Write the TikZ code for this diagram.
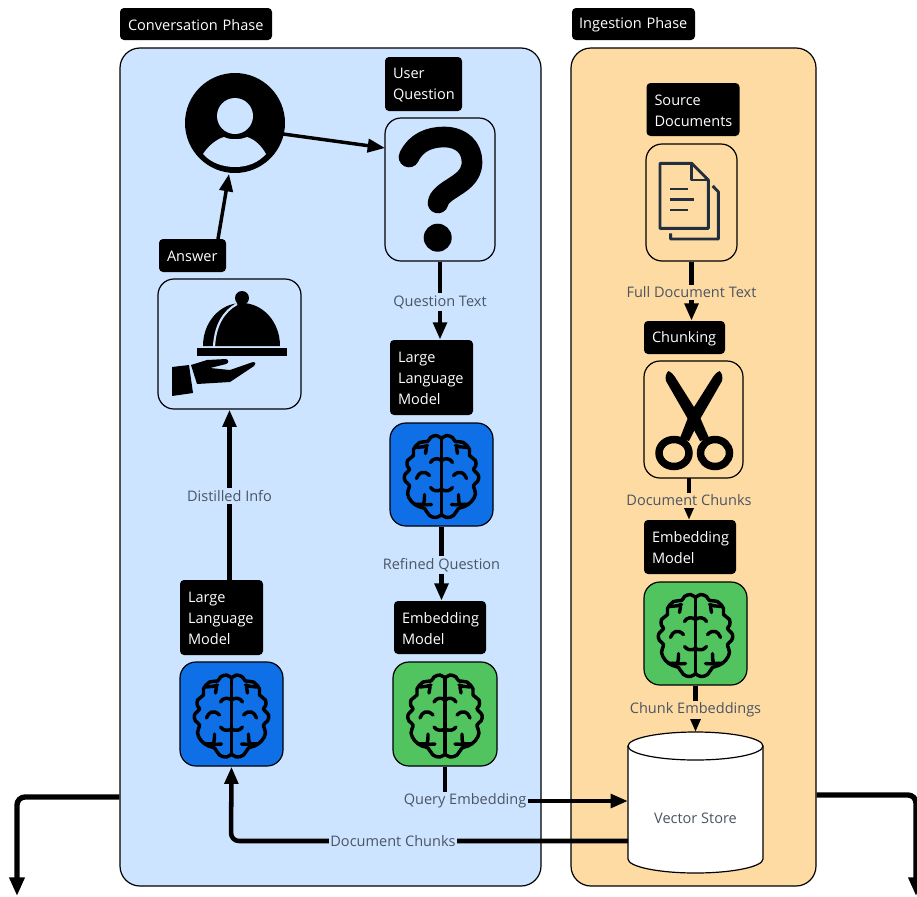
\documentclass[tikz,border=0pt]{standalone}
\usepackage{fontspec}
\setmainfont{Open Sans}
\usetikzlibrary{arrows.meta}
\definecolor{convbg}{HTML}{CCE4FF}
\definecolor{ingbg}{HTML}{FEDBA3}
\definecolor{brainblue}{HTML}{0F6FE6}
\definecolor{braingreen}{HTML}{52C45F}
\definecolor{edgegray}{HTML}{4B5563}
\definecolor{docink}{HTML}{232F3E}
\newcommand{\brainside}{%
  \draw[brainline] plot[smooth,tension=.65] coordinates {(0,-36)(-5,-39)(-11,-37)(-14,-33)(-22,-32)(-28,-25)(-28,-19)(-34,-14)(-34,-8)(-32,-5)(-37,1)(-36,7)(-32,11)(-34,19)(-30,27)(-23,32)(-17,34)(-12,41)(-5,43)(0,40)};
  \draw[brainline] (-25,-27) .. controls (-20,-28) and (-17,-27) .. (-14,-29);
  \draw[brainline] (-15,-27) -- (-16,-21);
  \draw[brainline] (-11,-12) .. controls (-9,-16) and (-4,-17) .. (0,-14);
  \draw[brainline] (-25,4) .. controls (-23,-2) and (-18,-5) .. (-12,1);
  \draw[brainline] (-11,13) .. controls (-8,17) and (-4,17) .. (0,15);
  \draw[brainline] (-27,30) .. controls (-22,29) and (-16,31) .. (-10,30);
  \draw[brainline] (-17,20) .. controls (-17,24) and (-17,27) .. (-18,30);
}
\tikzset{
  x=0.75pt,y=-0.75pt,
  panel/.style={draw=black,line width=0.9pt,rounded corners=15pt,inner sep=0pt},
  tagbox/.style={fill=black,text=white,rounded corners=3pt,inner sep=0pt,align=left,font=\fontsize{10.9}{15.75}\selectfont,execute at begin node={\rule{0pt}{9.8pt}}},
  iconbox/.style={draw=black,line width=0.9pt,rounded corners=12pt,inner sep=0pt},
  conn/.style={draw=black,line width=3.4pt,-{Triangle[length=13pt,width=10pt]}},
  thinconn/.style={conn,line width=2.6pt},
  flow/.style={fill=#1,text=edgegray,inner sep=1.5pt,yshift=-1pt,font=\fontsize{10.9}{13}\selectfont},
  brainline/.style={draw=black,line width=2.6pt,line cap=round,line join=round},
  docline/.style={draw=docink,line width=2.2pt,line join=round},
  brainpic/.pic={
    \brainside
    \begin{scope}[xscale=-1]\brainside\end{scope}
    \draw[brainline] (0,-36) -- (0,40);
  }
}
\begin{document}
\begin{tikzpicture}
\useasboundingbox (0,0) rectangle (917,896);
% panels
\node[panel,fill=convbg,minimum width=315.75pt,minimum height=628.5pt] (conv) at (330.5,467) {};
\node[panel,fill=ingbg,minimum width=183.75pt,minimum height=628.5pt] (ing) at (693.5,467) {};
% phase tags
\node[tagbox,minimum width=114pt,minimum height=24pt,text width=102pt] (convtag) at (196,24) {Conversation Phase};
\node[tagbox,minimum width=92.25pt,minimum height=24pt,text width=81.5pt] (ingtag) at (633.5,24) {Ingestion Phase};
% conversation: icons
\node[circle,fill=black,minimum size=75pt,inner sep=0pt] (user) at (235,123) {};
\fill[convbg] (235,116) circle (18);
\fill[convbg] (203,154) .. controls (209,145) and (217,139) .. (224,137) .. controls (230,140) and (240,140) .. (247,137) .. controls (254,139) and (261,145) .. (266,154) .. controls (258,163) and (247,167) .. (235,167) .. controls (223,167) and (211,163) .. (203,154) -- cycle;
\node[tagbox,minimum width=57.75pt,minimum height=40.5pt,text width=45.75pt] (uq) at (423.5,84) {User\\Question};
\node[iconbox,fill=convbg,minimum width=82.5pt,minimum height=107.25pt] (qbox) at (440,189.5) {};
\draw[black,line width=15.5pt,line cap=round,line join=round] (409,157) .. controls (416,142) and (430,137) .. (444,137) .. controls (462,137) and (472,148) .. (472,162) .. controls (472,177) and (460,183) .. (451,189) .. controls (443,194) and (438,199) .. (438,203);
\fill[black] (437.7,237.7) circle (14);
\node[tagbox,minimum width=50.25pt,minimum height=24.75pt,text width=38.25pt] (ans) at (192.5,255.5) {Answer};
\node[iconbox,fill=convbg,minimum width=107.25pt,minimum height=97.5pt] (abox) at (229.5,344) {};
% cloche
\fill[black] (242,298) circle (7);
\fill[black] (203,346) .. controls (203,322) and (220,303) .. (241.7,303) .. controls (263,303) and (280,322) .. (280,346) -- cycle;
\draw[convbg,line width=1.6pt] (214,347) .. controls (215,325) and (224,311) .. (237,304);
\fill[black] (197,348) rectangle (287,356);
\fill[black] (172,367) -- (189,365) -- (193,393) -- (172,396) -- cycle;
\fill[black] (191,365) -- (207,360) -- (226,359) .. controls (229,360) and (229,363) .. (226,364) -- (210,368) -- (230,370) -- (253,362) .. controls (256,362) and (256,365) .. (254,366) -- (230,382) -- (197,384) -- cycle;
% conversation: models
\node[tagbox,minimum width=62.25pt,minimum height=56.25pt,text width=50.25pt] (llma) at (431.5,377.5) {Large\\Language\\Model};
\node[iconbox,fill=brainblue,minimum width=77.25pt,minimum height=77.25pt] (braina) at (441.5,474.5) {};
\pic at (braina) {brainpic};
\node[tagbox,minimum width=69pt,minimum height=39.75pt,text width=57pt] (emba) at (440,627.5) {Embedding\\Model};
\node[iconbox,fill=braingreen,minimum width=78pt,minimum height=78pt] (braing) at (445,714) {};
\pic at (braing) {brainpic};
\node[tagbox,minimum width=62.25pt,minimum height=56.25pt,text width=50.25pt] (llmb) at (221.5,617.5) {Large\\Language\\Model};
\node[iconbox,fill=brainblue,minimum width=77.25pt,minimum height=78pt] (brainb) at (231.5,714) {};
\pic at (brainb) {brainpic};
% ingestion: icons
\node[tagbox,minimum width=69.75pt,minimum height=39.75pt,text width=57.75pt] (src) at (693,109.5) {Source\\Documents};
\node[iconbox,fill=ingbg,minimum width=68.25pt,minimum height=87.75pt] (dbox) at (691.5,202.5) {};
\draw[docline] (660,163.3) -- (691.7,163.3) -- (708.3,180) -- (708.3,228.3) -- (660,228.3) -- cycle;
\draw[docline] (691.7,163.3) -- (691.7,180) -- (708.3,180);
\draw[docline] (670,189) -- (688,189);
\draw[docline] (670,199.3) -- (694,199.3);
\draw[docline] (670,210) -- (688,210);
\draw[docline] (712.7,186) -- (718.3,191.7) -- (718.3,239) -- (670.7,239) -- (670.7,233.3);
\node[tagbox,minimum width=60.75pt,minimum height=24.75pt,text width=48.75pt] (chunk) at (684.5,337.5) {Chunking};
\node[iconbox,fill=ingbg,minimum width=74.25pt,minimum height=87.75pt] (sbox) at (693.5,419.5) {};
% scissors
\fill[black] (668.5,371) .. controls (671,372) and (673,374) .. (675,377) -- (699,415) -- (709,438) -- (700,441) -- (689,421) -- (666,381) .. controls (665,377) and (666,373) .. (668.5,371) -- cycle;
\fill[black] (719.5,371) .. controls (717,372) and (715,374) .. (713,377) -- (689,415) -- (680,438) -- (689,441) -- (699,421) -- (722,381) .. controls (723,377) and (722,373) .. (719.5,371) -- cycle;
\draw[black,line width=5.6pt] (674,453) ellipse (15 and 13.5);
\draw[black,line width=5.6pt] (715,453) ellipse (14.5 and 13.5);
\node[tagbox,minimum width=69pt,minimum height=40.5pt,text width=57pt] (embb) at (690,547) {Embedding\\Model};
\node[iconbox,fill=braingreen,minimum width=77.25pt,minimum height=77.25pt] (brainc) at (695.5,633.5) {};
\pic at (brainc) {brainpic};
% vector store
\fill[white] (628,746) -- (628,859) .. controls (628,866.7) and (658.4,873) .. (695.5,873) .. controls (732.6,873) and (763,866.7) .. (763,859) -- (763,746) -- cycle;
\draw[black,line width=0.9pt] (628,746) -- (628,859) .. controls (628,866.7) and (658.4,873) .. (695.5,873) .. controls (732.6,873) and (763,866.7) .. (763,859) -- (763,746);
\draw[black,line width=0.9pt,fill=white] (695.5,746) ellipse (67.5 and 14);
\node[font=\fontsize{10.9}{13}\selectfont,text=edgegray,inner sep=0pt] (vs) at (695.5,818) {Vector Store};
% free ends
\coordinate (lt) at (17,797);
\coordinate (lend) at (17,896);
\coordinate (rt) at (916,795);
\coordinate (rend) at (916,896);
\coordinate (vsl) at (628,801);
\coordinate (vsb) at (628,841);
\coordinate (bend) at (231,841);
% connectors
\draw[thinconn] (user) ++(48,11) -- (385,148);
\draw[thinconn] (218,239) -- (229,174);
\draw[conn] (qbox.south) -- node[flow=convbg] {Question Text} (qbox.south |- llma.north);
\draw[conn] (braina.south) -- node[flow=convbg] {Refined Question} (braina.south |- emba.north);
\draw[conn] (abox.south |- llmb.north) -- node[flow=convbg] {Distilled Info} (abox.south);
\draw[conn] (dbox.south) -- node[flow=ingbg] {Full Document Text} (dbox.south |- chunk.north);
\draw[conn] (689,478) -- node[flow=ingbg] {Document Chunks} (689,520);
\draw[conn] (brainc.south) -- node[flow=ingbg] {Chunk Embeddings} (695.5,732);
\draw[thinconn,-] (braing.south) -- (445,792);
\node[flow=convbg,inner sep=1pt,yshift=1pt] (qe) at (465,801) {Query Embedding};
\draw[conn] (qe.east) -- (vsl);
\draw[conn,rounded corners=6pt] (vsb) -- (bend) -- (brainb.south);
\node[flow=convbg,inner sep=1pt,yshift=1pt] (dc) at (393,841) {Document Chunks};
\draw[black,line width=4pt,rounded corners=6pt,-{Triangle[length=14pt,width=11pt]}] (conv.west |- lt) -- (lt) -- (lend);
\draw[black,line width=4pt,rounded corners=6pt,-{Triangle[length=14pt,width=11pt]}] (ing.east |- rt) -- (rt) -- (rend);
\end{tikzpicture}
\end{document}
